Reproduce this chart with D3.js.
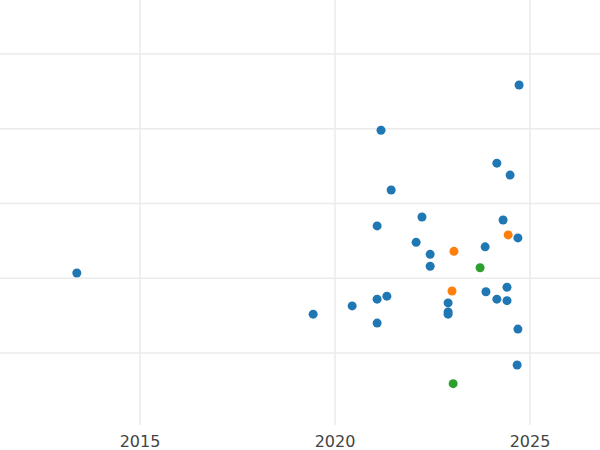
<!DOCTYPE html>
<html><head><meta charset="utf-8">
<script src="https://cdn.jsdelivr.net/npm/d3@7"></script>
<style>body{margin:0;background:#fff}text{font-family:"DejaVu Sans",sans-serif}</style>
</head><body><svg id="chart" width="600" height="450"></svg>
<script>
const years = [2024.72,2021.18,2024.15,2024.49,2021.44,2022.23,2024.31,2021.08,2024.69,2022.08,2023.85,2022.44,2022.44,2013.38,2024.41,2023.87,2021.33,2021.08,2024.15,2024.41,2022.90,2020.44,2022.90,2022.90,2019.44,2021.08,2024.69,2024.67,2024.44,2023.05,2023.0,2023.72,2023.03];
const values = [4.585,3.98,3.54,3.38,3.18,2.82,2.78,2.70,2.54,2.48,2.42,2.32,2.16,2.07,1.88,1.82,1.76,1.72,1.72,1.70,1.67,1.63,1.55,1.52,1.52,1.40,1.32,0.84,2.58,2.36,1.83,2.14,0.59];
const groups = ["a","a","a","a","a","a","a","a","a","a","a","a","a","a","a","a","a","a","a","a","a","a","a","a","a","a","a","a","b","b","b","c","c"];
const xTicks = [2015,2020,2025];
const yTicks = [1,2,3,4,5];

const svg = d3.select("#chart");
const x = d3.scaleLinear().domain([2015,2025]).range([140,530]);
const y = d3.scaleLinear().domain([1,5]).range([353,54]);
const color = d3.scaleOrdinal().domain(["a","b","c"]).range(["#1f77b4","#ff7f0e","#2ca02c"]);

// grid
svg.append("g").selectAll("line").data(xTicks).join("line")
  .attr("x1",d=>x(d)).attr("x2",d=>x(d)).attr("y1",0).attr("y2",425)
  .attr("stroke","#ebebeb").attr("stroke-width",1.5);
svg.append("g").selectAll("line").data(yTicks).join("line")
  .attr("x1",0).attr("x2",600).attr("y1",d=>y(d)).attr("y2",d=>y(d))
  .attr("stroke","#ebebeb").attr("stroke-width",1.5);

// x labels
svg.append("g").selectAll("text").data(xTicks).join("text")
  .attr("x",d=>x(d)).attr("y",447).attr("text-anchor","middle")
  .attr("font-size",16).attr("fill","#444").text(d=>d);

// points
const pts = years.map((d,i)=>({x:d,y:values[i],g:groups[i]}));
svg.append("g").selectAll("circle").data(pts).join("circle")
  .attr("cx",d=>x(d.x)).attr("cy",d=>y(d.y)).attr("r",4.5)
  .attr("fill",d=>color(d.g));
</script></body></html>
